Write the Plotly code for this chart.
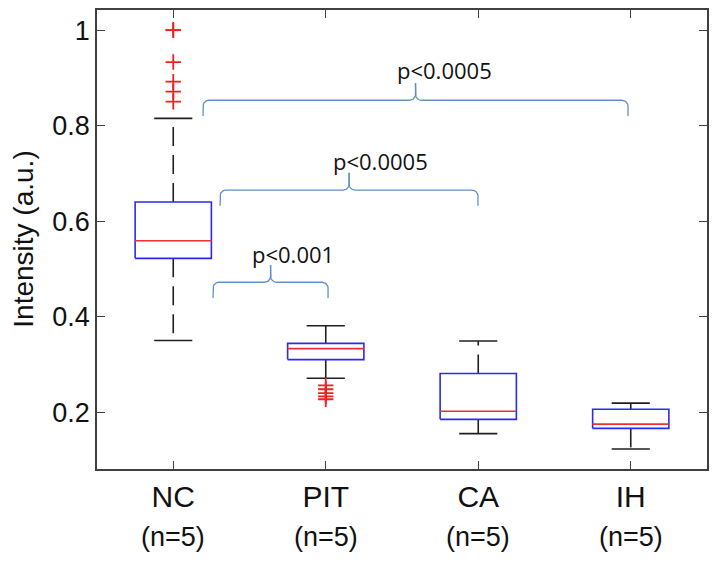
import numpy as np
import plotly.graph_objects as go

# ---------------- data ----------------
categories = ["NC", "PIT", "CA", "IH"]
n_labels = ["(n=5)", "(n=5)", "(n=5)", "(n=5)"]
q1 = [0.522, 0.310, 0.185, 0.166]
median = [0.559, 0.333, 0.202, 0.175]
q3 = [0.640, 0.344, 0.281, 0.206]
lower_whisker = [0.350, 0.271, 0.155, 0.123]
upper_whisker = [0.815, 0.381, 0.349, 0.219]
outliers = [
    [1.0, 1.0, 0.933, 0.892, 0.871, 0.850],
    [0.256, 0.248, 0.240, 0.233, 0.227],
    [],
    [],
]
# significance brackets: (left x, right x, bracket y, label)
bracket_left = [1.195, 1.307, 1.261]
bracket_right = [3.982, 2.998, 2.015]
bracket_y = [0.853, 0.665, 0.472]
bracket_text = ["p<0.0005", "p<0.0005", "p<0.001"]
bracket_text_x = [2.78, 2.356, 1.785]
bracket_text_y = [0.916, 0.726, 0.531]
y_title = "Intensity (a.u.)"

BOX_HALF = 0.25
CAP_HALF = 0.125
xs = list(range(1, len(categories) + 1))

fig = go.Figure()

for i, x in enumerate(xs):
    # whiskers (dashed black)
    fig.add_trace(go.Scatter(
        x=[x, x, None, x, x],
        y=[q3[i], upper_whisker[i], None, q1[i], lower_whisker[i]],
        mode="lines", line=dict(color="#202020", width=1.6, dash="19px,9px"),
        hoverinfo="skip", showlegend=False))
    # caps
    fig.add_trace(go.Scatter(
        x=[x - CAP_HALF, x + CAP_HALF, None, x - CAP_HALF, x + CAP_HALF],
        y=[upper_whisker[i], upper_whisker[i], None, lower_whisker[i], lower_whisker[i]],
        mode="lines", line=dict(color="#202020", width=1.6),
        hoverinfo="skip", showlegend=False))
    # box
    fig.add_trace(go.Scatter(
        x=[x - BOX_HALF, x + BOX_HALF, x + BOX_HALF, x - BOX_HALF, x - BOX_HALF],
        y=[q1[i], q1[i], q3[i], q3[i], q1[i]],
        mode="lines", line=dict(color="#2a2af0", width=1.6),
        hoverinfo="skip", showlegend=False))
    # median
    fig.add_trace(go.Scatter(
        x=[x - BOX_HALF, x + BOX_HALF], y=[median[i], median[i]],
        mode="lines", line=dict(color="#f03030", width=1.6),
        hoverinfo="skip", showlegend=False))
    # outliers
    if outliers[i]:
        fig.add_trace(go.Scatter(
            x=[x] * len(outliers[i]), y=outliers[i], mode="markers",
            marker=dict(symbol="cross-thin", size=11,
                        line=dict(color="#f02020", width=1.8)),
            hoverinfo="skip", showlegend=False))


def brace(x0, x1, y, rise_end=0.033, rise_peak=0.036, rx=0.04, ry=0.012):
    xm = (x0 + x1) / 2
    t = np.linspace(0, np.pi / 2, 10)
    px, py = [], []
    px += [x0]; py += [y - rise_end]
    px += list(x0 + rx * (1 - np.cos(t))); py += list(y - ry + ry * np.sin(t))
    px += list(xm - rx + rx * np.sin(t)); py += list(y + ry * (1 - np.cos(t)))
    px += [xm]; py += [y + rise_peak]
    px += [None]; py += [None]
    px += [xm]; py += [y + rise_peak]
    px += list(xm + rx - rx * np.sin(t[::-1])); py += list(y + ry * (1 - np.cos(t[::-1])))
    px += list(x1 - rx * (1 - np.cos(t[::-1]))); py += list(y - ry + ry * np.sin(t[::-1]))
    px += [x1]; py += [y - rise_end]
    return px, py


for j in range(len(bracket_text)):
    bx, by = brace(bracket_left[j], bracket_right[j], bracket_y[j])
    fig.add_trace(go.Scatter(x=bx, y=by, mode="lines",
                             line=dict(color="#6190c8", width=1.3),
                             hoverinfo="skip", showlegend=False))
    fig.add_annotation(x=bracket_text_x[j], y=bracket_text_y[j], text=bracket_text[j],
                       showarrow=False, xanchor="center", yanchor="middle",
                       font=dict(family="Open Sans", size=22, color="#111111"))

for i, x in enumerate(xs):
    fig.add_annotation(x=x, y=0, yref="paper", text=n_labels[i], showarrow=False,
                       yanchor="middle", yshift=-68,
                       font=dict(family="Liberation Sans", size=27, color="#111111"))

fig.add_annotation(x=-0.121, y=0.5, xref="paper", yref="paper", text=y_title,
                   textangle=-90, showarrow=False, xanchor="center", yanchor="middle",
                   font=dict(family="Liberation Sans", size=28, color="#111111"))

axis_color = "#404040"
fig.update_xaxes(range=[0.5, 4.5], tickvals=xs, ticktext=categories,
                 showline=True, linecolor=axis_color, linewidth=1.6, mirror="ticks",
                 ticks="inside", ticklen=8, tickcolor=axis_color, tickwidth=1.4,
                 showgrid=False, zeroline=False,
                 tickfont=dict(family="Liberation Sans", size=30, color="#111111"))
fig.update_yaxes(range=[0.081, 1.042], tickvals=[0.2, 0.4, 0.6, 0.8, 1],
                 ticktext=["0.2", "0.4", "0.6", "0.8", "1"],
                 showline=True, linecolor=axis_color, linewidth=1.6, mirror="ticks",
                 ticks="inside", ticklen=8, tickcolor=axis_color, tickwidth=1.4,
                 showgrid=False, zeroline=False,
                 tickfont=dict(family="Liberation Sans", size=27, color="#111111"))
# the page body adds an 8px offset, so the figure is sized to fit the window
fig.update_layout(width=711, height=553, plot_bgcolor="white", paper_bgcolor="white",
                  margin=dict(l=89, r=12, t=2, b=92, autoexpand=False))
fig.write_html("out.html")
